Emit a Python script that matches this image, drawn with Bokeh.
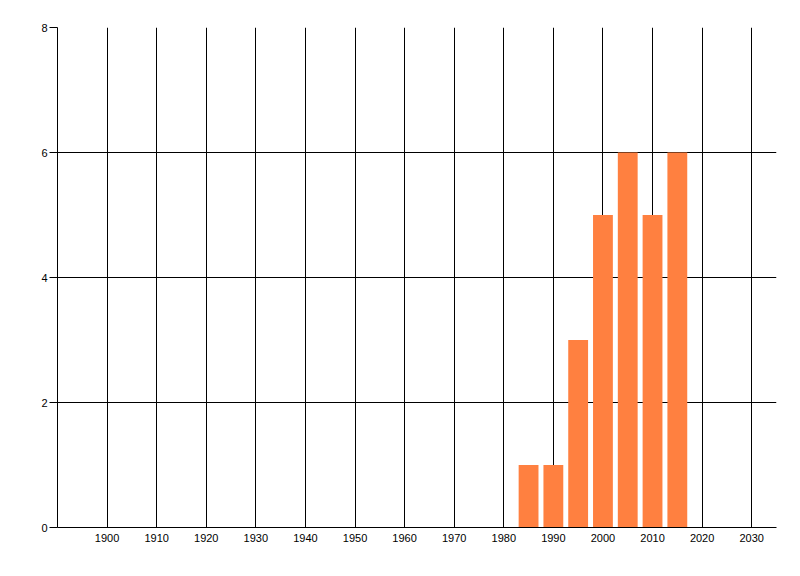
from bokeh.plotting import figure
from bokeh.models import ColumnDataSource, FixedTicker, Range1d
from bokeh.embed import file_html
from bokeh.resources import INLINE

# values
years = [1985, 1990, 1995, 2000, 2005, 2010, 2015]
counts = [1, 1, 3, 5, 6, 5, 6]
x_ticks = [1900, 1910, 1920, 1930, 1940, 1950, 1960, 1970, 1980, 1990, 2000, 2010, 2020, 2030]
y_ticks = [0, 2, 4, 6, 8]

src = ColumnDataSource(data=dict(x=years, top=counts))

p = figure(width=792, height=568, output_backend="svg", toolbar_location=None,
           x_range=Range1d(1890, 2035), y_range=Range1d(0, 8),
           min_border_left=57, min_border_top=27, min_border_right=16, min_border_bottom=41)
p.outline_line_color = None
p.background_fill_color = "white"

p.vbar(x='x', top='top', width=4, bottom=0, source=src, fill_color="#FF8040", line_color=None)

p.xaxis.ticker = FixedTicker(ticks=x_ticks)
p.yaxis.ticker = FixedTicker(ticks=y_ticks)
p.xaxis.minor_tick_line_color = None
p.yaxis.minor_tick_line_color = None
p.xaxis.major_tick_out = 0
p.xaxis.major_tick_in = 0
p.yaxis.major_tick_out = 8
p.yaxis.major_tick_in = 0
p.xaxis.major_label_standoff = 6
p.yaxis.major_label_standoff = 2

for ax in (p.xaxis, p.yaxis):
    ax.axis_line_color = "black"
    ax.major_tick_line_color = "black"
    ax.major_label_text_font = "Liberation Sans"
    ax.major_label_text_font_size = "11px"
    ax.major_label_text_color = "black"

p.grid.grid_line_color = "black"
p.grid.grid_line_alpha = 1.0
p.grid.grid_line_width = 1
p.grid.level = "underlay"

open("out.html", "w").write(file_html(p, INLINE))
